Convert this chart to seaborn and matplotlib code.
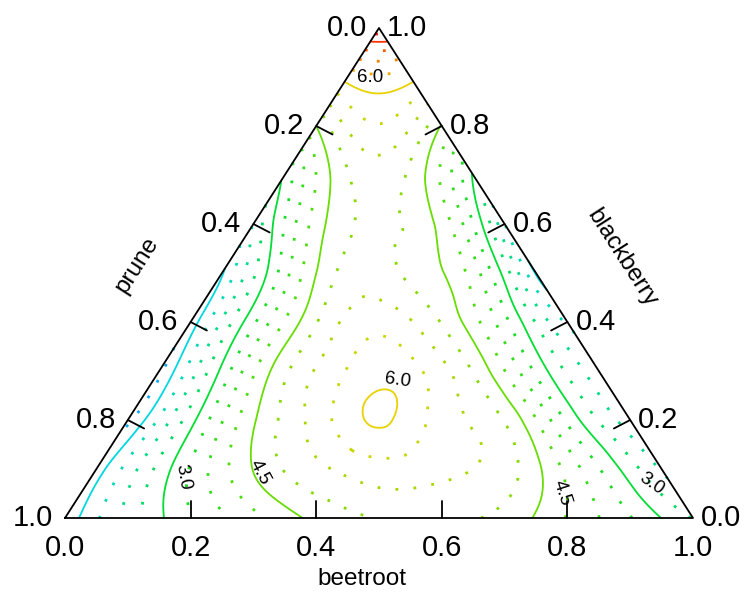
import numpy as np
import matplotlib
matplotlib.use("Agg")
import matplotlib.pyplot as plt
import matplotlib.tri as mtri
import pandas as pd
import seaborn as sns

# ---------------- data ----------------
# grid step along each composition axis
step = 0.1
# response values on the ternary grid; each row has fixed blackberry
# fraction (0.0, 0.1, ... 1.0), entries run over beetroot = 0, 0.1, ...
z_t00 = [1.25, 2.4, 3.35, 4.0, 4.6, 4.9, 4.95, 4.75, 4.1, 3.4, 2.6]
z_t01 = [1.3, 2.75, 4.0, 4.9, 5.35, 5.45, 5.25, 4.6, 3.4, 2.2]
z_t02 = [1.0, 2.85, 4.45, 5.4, 6.05, 5.45, 4.85, 3.3, 2.0]
z_t03 = [1.0, 3.1, 4.8, 5.65, 5.75, 4.85, 3.3, 2.0]
z_t04 = [1.25, 3.3, 4.85, 5.5, 4.85, 3.5, 1.8]
z_t05 = [1.45, 3.6, 5.0, 4.8, 3.95, 1.45]
z_t06 = [2.3, 4.3, 4.95, 4.35, 1.9]
z_t07 = [3.1, 4.85, 4.8, 2.95]
z_t08 = [4.5, 5.6, 4.45]
z_t09 = [6.15, 6.15]
z_t10 = [8.2]
rows = [z_t00, z_t01, z_t02, z_t03, z_t04, z_t05, z_t06, z_t07, z_t08, z_t09, z_t10]

tick_values = [0.0, 0.2, 0.4, 0.6, 0.8, 1.0]
axis_names = ["beetroot", "prune", "blackberry"]
solid_levels = [1.5, 3.0, 4.5, 6.0, 7.5]
dotted_levels = [0.375, 0.75, 1.125, 1.875, 2.25, 2.625, 3.375, 3.75, 4.125,
                 4.875, 5.25, 5.625, 6.375, 6.75, 7.125, 7.875]
label_levels = [6.0, 6.0, 3.0, 4.5, 4.5, 3.0]

# ---------------- styling ----------------
sns.set_theme(style="white")
plt.rcParams['font.family'] = ['Liberation Sans', 'DejaVu Sans']
plt.rcParams['text.color'] = 'black'

W, H = 747, 593
fig = plt.figure(figsize=(W / 100, H / 100), dpi=100)
x0, y0, sw, sh = 65, 518, 628, 490   # triangle base-left pixel, base width, height
ax = fig.add_axes([x0 / W, (H - y0) / H, sw / W, sh / H])
ax.set_xlim(0, 1)
ax.set_ylim(0, 1)

def px(xp, yp):
    return (xp - x0) / sw, (y0 - yp) / sh

# ---------------- build grid ----------------
bs, ts, zs = [], [], []
index = {}
for i, row in enumerate(rows):
    for j, z in enumerate(row):
        index[(i, j)] = len(zs)
        bs.append(j * step)
        ts.append(i * step)
        zs.append(z)
bs = np.array(bs); ts = np.array(ts); zs = np.array(zs)
n = len(rows) - 1
triangles = []
for i in range(n):
    for j in range(n - i):
        triangles.append([index[(i, j)], index[(i, j + 1)], index[(i + 1, j)]])
        if j + 1 <= n - i - 1:
            triangles.append([index[(i, j + 1)], index[(i + 1, j + 1)], index[(i + 1, j)]])
X = bs + ts / 2
Y = ts
tri = mtri.Triangulation(X, Y, triangles=np.array(triangles))
interp = mtri.CubicTriInterpolator(tri, zs, kind='min_E')
refiner = mtri.UniformTriRefiner(tri)
tri_r, z_r = refiner.refine_field(zs, interp, subdiv=4)

cmap = sns.blend_palette(["#1a8cff", "#00d8e0", "#00dd33", "#66dd00",
                          "#e8d200", "#ff3300", "#ff0000"], as_cmap=True)
anchors = np.array([0.9, 1.5, 3.0, 4.5, 6.0, 7.5, 8.1])

def level_color(v):
    pos = np.interp(v, anchors, np.linspace(0, 1, len(anchors)))
    return cmap(pos)

cs_d = ax.tricontour(tri_r, z_r, levels=dotted_levels,
                     colors=[level_color(v) for v in dotted_levels], linewidths=2.0)
cs_d.set_linestyle((0, (1, 5.5)))
cs_s = ax.tricontour(tri_r, z_r, levels=solid_levels,
                     colors=[level_color(v) for v in solid_levels], linewidths=1.3)

# ---------------- triangle frame ----------------
frame = pd.DataFrame({"x": [0, 1, 0.5, 0], "y": [0, 0, 1, 0]})
sns.lineplot(data=frame, x="x", y="y", sort=False, estimator=None,
             color="black", linewidth=1.3, ax=ax, clip_on=False)
ax.set_xlabel(""); ax.set_ylabel("")
ax.axis('off')

tick_len = 0.03
fs_tick = 21
for v in tick_values:
    # bottom axis: beetroot
    if 0 < v < 1:
        ax.plot([v, v], [0, tick_len / 0.866], color="black", lw=1.3, clip_on=False)
    ax.text(v, -30 / sh, f"{v:.1f}", ha="center", va="center", fontsize=fs_tick)
    # left axis: prune (prune = v at blackberry = 1 - v, beetroot = 0)
    t = 1 - v
    lx, ly = t / 2, t
    if 0 < v < 1:
        ax.plot([lx, lx + 0.866 * tick_len], [ly, ly - 0.5 * tick_len / 0.866],
                color="black", lw=1.3, clip_on=False)
    ax.text(lx - 12 / sw, ly, f"{v:.1f}", ha="right", va="center", fontsize=fs_tick)
    # right axis: blackberry (blackberry = v, prune = 0)
    rx, ry = 1 - v / 2, v
    if 0 < v < 1:
        ax.plot([rx, rx - 0.866 * tick_len], [ry, ry - 0.5 * tick_len / 0.866],
                color="black", lw=1.3, clip_on=False)
    ax.text(rx + 8 / sw, ry, f"{v:.1f}", ha="left", va="center", fontsize=fs_tick)

fs_ax = 17.5
bx, by = px(362, 579)
ax.text(bx, by, axis_names[0], ha="center", va="center", fontsize=fs_ax)
plx, ply = px(137, 265)
ax.text(plx, ply, axis_names[1], ha="center", va="center", fontsize=fs_ax, rotation=57.4)
kx, ky = px(622, 258)
ax.text(kx, ky, axis_names[2], ha="center", va="center", fontsize=fs_ax, rotation=-57.4)

label_spots = [((370, 78), 0), ((398, 380), -8), ((183, 477), -80),
               ((260, 472), -62), ((562, 493), -72), ((652, 484), -35)]
for lev, ((lxp, lyp), rot) in zip(label_levels, label_spots):
    tx, ty = px(lxp, lyp)
    ax.text(tx, ty, f"{lev:.1f}", ha="center", va="center", fontsize=13.5,
            rotation=rot, color="black")

fig.savefig("out.png", dpi=100)
